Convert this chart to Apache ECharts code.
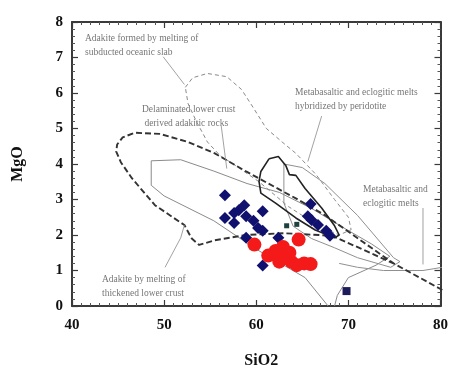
<!DOCTYPE html>
<html>
<head>
<meta charset="utf-8">
<script src="https://cdn.jsdelivr.net/npm/echarts@6/dist/echarts.min.js"></script>
<style>
html,body{margin:0;padding:0;background:#fff;}
#chart{width:451px;height:374px;}
</style>
</head>
<body>
<div id="chart"></div>
<script>
// ---- tick labels ----
const xTicks = [40, 50, 60, 70, 80];
const yTicks = [0, 1, 2, 3, 4, 5, 6, 7, 8];

// ---- sample data [SiO2, MgO] ----
const blueDiamonds = [
  [56.6,3.12],[58.7,2.84],[58.1,2.70],[57.6,2.62],[56.6,2.48],[57.6,2.34],
  [58.9,2.53],[59.7,2.40],[60.7,2.67],[60.2,2.20],[60.7,2.12],[58.9,1.92],
  [62.4,1.92],[60.7,1.14],[65.9,2.87],[65.6,2.53],[66.0,2.42],[66.7,2.28],
  [67.6,2.12],[68.0,1.98]
];
const redCircles = [
  [59.8,1.73],[64.6,1.87],[61.3,1.42],[62.1,1.55],[62.9,1.66],[63.0,1.35],
  [63.8,1.25],[64.4,1.15],[65.2,1.20],[65.9,1.18],[62.5,1.25],[63.6,1.50]
];
const blueSquares = [[69.8,0.42]];
const darkSmall = [[63.3,2.26],[64.4,2.30]];

// ---- field outlines [SiO2, MgO] ----
const fieldThickCrust = [
  [80.2,0.45],[74.9,1.2],[67.5,2.55],[64.3,3.03],[58.9,3.79],[55.5,4.3],[52.6,4.62],
  [49.5,4.85],[46.8,4.88],[45.5,4.75],[44.9,4.55],[44.8,4.35],[45.3,4.05],[46.5,3.6],
  [49.0,2.84],[52.2,2.28],[53.0,1.9],[53.8,1.72],[55.5,1.85],[58.9,2.0],[63.0,2.05],
  [68.2,1.98],[71.5,1.6],[74.9,1.2]
];
const fieldDelaminated = [
  [67.8,0.0],[65.3,0.8],[60.0,1.6],[55.4,2.4],[50.0,3.1],[48.6,3.4],[48.6,4.09],
  [51.8,4.12],[55.4,3.8],[59.0,3.45],[62.5,3.2],[66.0,2.75],[69.5,2.2],[72.5,1.75],
  [74.5,1.4],[73.0,1.15],[70.0,0.8],[68.8,0.3],[68.5,0.0]
];
const fieldSlab = [
  [52.3,6.16],[53.1,6.43],[54.7,6.55],[56.8,6.46],[58.4,6.1],[59.3,5.74],[61.1,5.0],
  [62.9,4.6],[64.3,4.3],[66.5,3.7],[68.5,3.0],[70.0,2.5],[70.3,2.15],[69.0,2.0],
  [66.5,2.3],[63.5,2.8],[60.3,3.5],[57.5,4.0],[56.1,4.23],[54.7,4.62],[53.5,5.2],
  [52.6,5.7],[52.3,6.16]
];
const fieldHybrid = [
  [61.4,4.15],[62.4,4.21],[63.2,3.96],[63.6,3.7],[64.3,3.68],[65.3,3.31],[67.1,2.76],
  [68.5,2.26],[69.0,2.0],[68.5,1.92],[66.4,2.14],[64.3,2.48],[62.1,2.9],[60.5,3.18],
  [60.3,3.51],[60.5,3.79],[61.4,4.15]
];
const fieldEclogite = [
  [63.0,4.0],[65.0,3.9],[67.45,3.45],[71.0,2.55],[74.9,1.36],[75.6,1.25],[74.6,1.09],
  [71.0,1.36],[68.5,1.64],[66.0,1.9],[64.0,2.25],[63.0,2.9],[63.0,4.0]
];
const lineLowerRight = [[69.0,1.2],[71.0,1.09],[73.8,1.0],[78.1,1.0],[80.2,1.09]];

// ---- label pointer lines ----
const ptrSlab = [[49.9,7.02],[52.2,6.24]];
const ptrDelam = [[56.2,5.07],[56.8,3.87]];
const ptrHybrid = [[67.1,5.35],[65.6,4.07]];
const ptrEclog = [[78.1,2.76],[78.1,1.17]];
const ptrThick = [[50.1,1.09],[51.8,1.92],[52.2,2.28]];

const chart = echarts.init(document.getElementById('chart'));
const serif = 'Liberation Serif';
const axisCol = '#3a3a3a';

function outline(data, color, width, type) {
  return {type:'line', data:data, showSymbol:false, symbol:'none', silent:true,
    xAxisIndex:0, yAxisIndex:0, z:2, clip:true,
    lineStyle:{color:color, width:width, type:type}};
}
function note(x, y, lines) {
  return {type:'text', left:x, top:y, silent:true,
    style:{text:lines.join('\n'), font:'9.5px "' + serif + '"', fill:'#767676', lineHeight:14}};
}

const baseX = {type:'value', min:40, max:80, interval:10, splitLine:{show:false},
  axisLine:{onZero:false, lineStyle:{color:axisCol, width:2}},
  axisTick:{inside:true, length:6, lineStyle:{color:axisCol, width:1.2}},
  minorTick:{show:true, splitNumber:10, length:3, lineStyle:{color:'#555'}}};
const baseY = {type:'value', min:0, max:8, interval:1, splitLine:{show:false},
  axisLine:{onZero:false, lineStyle:{color:axisCol, width:2}},
  axisTick:{inside:true, length:6, lineStyle:{color:axisCol, width:1.2}},
  minorTick:{show:true, splitNumber:5, length:3, lineStyle:{color:'#555'}}};

chart.setOption({
  backgroundColor:'#ffffff',
  animation:false,
  grid:{left:72, right:3, top:22, bottom:65, containLabel:false},
  xAxis:[
    Object.assign({}, baseX, {position:'bottom', name:'SiO2', nameLocation:'middle', nameGap:47,
      nameTextStyle:{fontFamily:serif, fontWeight:'bold', fontSize:16, color:'#111', padding:[0,0,0,10]},
      axisLabel:{fontFamily:serif, fontWeight:'bold', fontSize:15, color:'#111', margin:12,
        formatter:function(v){return xTicks.indexOf(v) >= 0 ? String(v) : '';}}}),
    Object.assign({}, baseX, {position:'top', axisLabel:{show:false}})
  ],
  yAxis:[
    Object.assign({}, baseY, {position:'left', name:'MgO', nameLocation:'middle', nameGap:46,
      nameRotate:90,
      nameTextStyle:{fontFamily:serif, fontWeight:'bold', fontSize:16, color:'#111'},
      axisLabel:{fontFamily:serif, fontWeight:'bold', fontSize:15, color:'#111', margin:9,
        formatter:function(v){return yTicks.indexOf(v) >= 0 ? String(v) : '';}}}),
    Object.assign({}, baseY, {position:'right', axisLabel:{show:false}})
  ],
  graphic:[
    note(85, 31, ['Adakite formed by melting of', 'subducted oceanic slab']),
    note(142, 102, ['Delaminated lower crust', ' derived adakitic rocks']),
    note(295, 85, ['Metabasaltic and eclogitic melts', 'hybridized by peridotite']),
    note(363, 182, ['Metabasaltic and', 'eclogitic melts']),
    note(102, 272, ['Adakite by melting of', 'thickened lower crust'])
  ],
  series:[
    outline(fieldSlab, '#8a8a8a', 1, [4,3]),
    outline(fieldDelaminated, '#8a8a8a', 1, 'solid'),
    outline(fieldEclogite, '#909090', 1, 'solid'),
    outline(lineLowerRight, '#909090', 1, 'solid'),
    outline(fieldThickCrust, '#333333', 1.9, [6,3]),
    outline(fieldHybrid, '#222222', 1.6, 'solid'),
    outline(ptrSlab, '#8a8a8a', 0.8, 'solid'),
    outline(ptrDelam, '#8a8a8a', 0.8, 'solid'),
    outline(ptrHybrid, '#8a8a8a', 0.8, 'solid'),
    outline(ptrEclog, '#8a8a8a', 0.8, 'solid'),
    outline(ptrThick, '#8a8a8a', 0.8, 'solid'),
    {type:'scatter', data:blueDiamonds, symbol:'diamond', symbolSize:[12,12], z:5,
      itemStyle:{color:'#10106e', opacity:1}},
    {type:'scatter', data:redCircles, symbol:'circle', symbolSize:14, z:6,
      itemStyle:{color:'#f51a1a', opacity:1}},
    {type:'scatter', data:blueSquares, symbol:'rect', symbolSize:8, z:5,
      itemStyle:{color:'#1c1c5a', opacity:1}},
    {type:'scatter', data:darkSmall, symbol:'rect', symbolSize:5, z:5,
      itemStyle:{color:'#1d4040', opacity:1}}
  ]
});
</script>
</body>
</html>
